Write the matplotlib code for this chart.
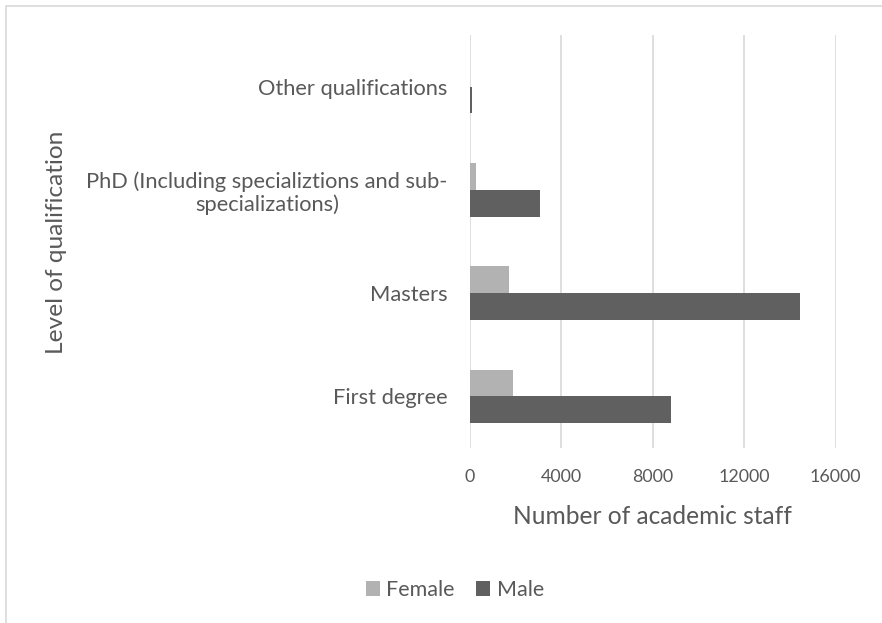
import matplotlib
matplotlib.use("Agg")
import matplotlib.pyplot as plt
import numpy as np
from matplotlib.patches import Rectangle

categories = ["First degree", "Masters",
              "PhD (Including specializtions and sub-\nspecializations)",
              "Other qualifications"]
female = [1895, 1710, 260, 10]
male = [8800, 14450, 3060, 80]
xticks = [0, 4000, 8000, 12000, 16000]

plt.rcParams['font.family'] = ['Lato', 'DejaVu Sans']
txt = '#595959'

fig = plt.figure(figsize=(8.82, 6.23), dpi=100)
renderer = fig.canvas.get_renderer()


def fit_size(s, target_px):
    t = fig.text(0, 0, s, fontsize=10)
    w = t.get_window_extent(renderer).width
    t.remove()
    return 10 * target_px / w


fs_tick = fit_size("16000", 52)
fs_cat = fit_size("PhD (Including specializtions and sub-", 363)
fs_xlab = fit_size("Number of academic staff", 279)
fs_ylab = fit_size("Level of qualification", 223)
fs_leg = fit_size("Female", 68)

fig.patches.append(Rectangle((6/882, -0.1), 1.2, 1.1 - 6/623, transform=fig.transFigure,
                             facecolor='none', edgecolor='#d9d9d9', lw=1.2))
L, R, T, B = 470, 835.7, 35, 448
ax = fig.add_axes([L/882, 1-B/623, (R-L)/882, (B-T)/623])

y = np.arange(len(categories))
h = 0.26
ax.barh(y + h/2, female, height=h, color='#b2b2b2', label='Female', zorder=3)
ax.barh(y - h/2, male, height=h, color='#606060', label='Male', zorder=3)

ax.set_xlim(0, 16000)
ax.set_ylim(-0.5, 3.5)
ax.set_xticks(xticks)
ax.set_xticklabels([str(v) for v in xticks])
ax.set_yticks(y)
ax.set_yticklabels(categories, ha='right', multialignment='center', linespacing=1.15)
ax.grid(axis='x', color='#d9d9d9', lw=1.2, zorder=0)
ax.set_axisbelow(True)
for s in ax.spines.values():
    s.set_visible(False)
ax.tick_params(axis='x', length=0, pad=15, labelsize=fs_tick, colors=txt)
ax.tick_params(axis='y', length=0, pad=16, labelsize=fs_cat, colors=txt)

ax.set_xlabel('Number of academic staff', fontsize=fs_xlab, color=txt)
ax.xaxis.label.set_va('center')
ax.xaxis.set_label_coords(0.5 * (513 + 792 - 2 * L) / (R - L), (B - 517) / (B - T))

ax.set_ylabel('Level of qualification', fontsize=fs_ylab, color=txt)
ax.yaxis.label.set_va('center')
ax.yaxis.label.set_ha('center')
ax.yaxis.set_label_coords((57 - L) / (R - L), (B - 242) / (B - T))

leg = fig.legend(loc='center', bbox_to_anchor=(455/882, 1-590/623), ncol=2, frameon=False,
                 fontsize=fs_leg, handlelength=0.65, handleheight=0.65, handletextpad=0.3,
                 columnspacing=1.0, labelcolor=txt)

fig.savefig('out.png', dpi=100, facecolor='white')
